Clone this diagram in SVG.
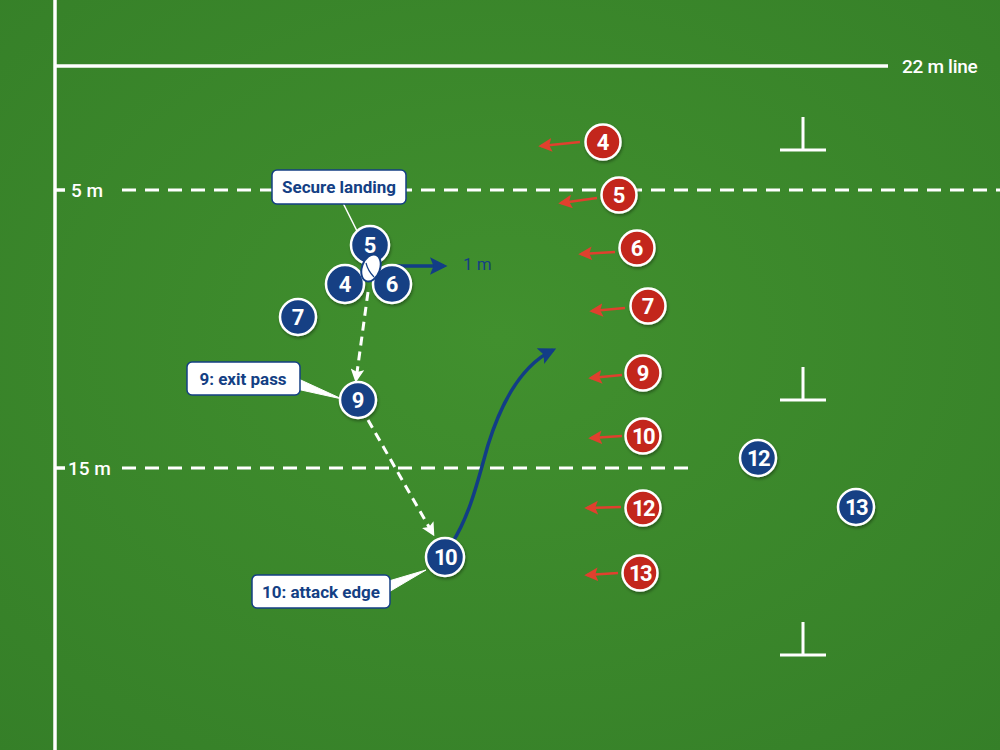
<svg xmlns="http://www.w3.org/2000/svg" width="1000" height="750" viewBox="0 0 1000 750">
<defs>
<radialGradient id="grass" cx="50%" cy="45%" r="75%">
<stop offset="0" stop-color="#41902e"/>
<stop offset="1" stop-color="#357f28"/>
</radialGradient>
<filter id="sh" x="-30%" y="-30%" width="160%" height="160%">
<feDropShadow dx="1" dy="2" stdDeviation="1.5" flood-color="#000" flood-opacity="0.35"/>
</filter>
<marker id="redHead" viewBox="0 0 10 10" refX="8" refY="5" markerWidth="5.5" markerHeight="5.5" orient="auto">
<path d="M0,0 L10,5 L0,10 L2,5 Z" fill="#e0402e"/>
</marker>
<marker id="blueHead" viewBox="0 0 10 10" refX="8" refY="5" markerWidth="5" markerHeight="5" orient="auto">
<path d="M0,0 L10,5 L0,10 L2,5 Z" fill="#123d86"/>
</marker>
<marker id="whiteHead" viewBox="0 0 10 10" refX="8" refY="5" markerWidth="4.5" markerHeight="4.5" orient="auto">
<path d="M0,0 L10,5 L0,10 L2,5 Z" fill="#ffffff"/>
</marker>
</defs>
<style>
.line{stroke:#fff;stroke-width:3.5;fill:none}
.dash{stroke:#fff;stroke-width:3;stroke-dasharray:14 9;fill:none}
.lbl{font-family:Roboto,"Liberation Sans",sans-serif;font-size:19px;fill:#fff;font-weight:500}
.blue circle{fill:#143f84;stroke:#fff;stroke-width:2.5;filter:url(#sh)}
.red circle{fill:#c3271d;stroke:#fff;stroke-width:2.5;filter:url(#sh)}
.num{font-family:Roboto,"Liberation Sans",sans-serif;font-weight:700;font-size:22px;fill:#fff;text-anchor:middle}
.box rect{fill:#fff;stroke:#143f84;stroke-width:1.5}
.boxt{font-family:Roboto,"Liberation Sans",sans-serif;font-weight:700;font-size:17px;fill:#143f84;text-anchor:middle}
.ra{stroke:#e0402e;stroke-width:2.5;fill:none;marker-end:url(#redHead)}
</style>
<rect width="1000" height="750" fill="url(#grass)"/>

<g id="field">
<line class="line" x1="55" y1="0" x2="55" y2="750"/>
<line class="line" x1="55" y1="66" x2="888" y2="66"/>
<text class="lbl" x="902" y="73" letter-spacing="-0.3">22 m line</text>
<line class="line" x1="55" y1="190" x2="65" y2="190" stroke-width="2.5"/>
<text class="lbl" x="71" y="197">5 m</text>
<line class="dash" x1="122" y1="190" x2="1000" y2="190"/>
<line class="line" x1="55" y1="468" x2="65" y2="468" stroke-width="2.5"/>
<text class="lbl" x="68" y="475">15 m</text>
<line class="dash" x1="122" y1="468" x2="690" y2="468"/>
<g id="posts" stroke="#fff" stroke-width="3" fill="none">
<path d="M803,117 V150 M780,150 H826"/>
<path d="M803,367 V400 M780,400 H826"/>
<path d="M803,622 V655 M780,655 H826"/>
</g>
</g>

<g id="connectors">
<line x1="368" y1="292" x2="356" y2="380" stroke="#fff" stroke-width="3" stroke-dasharray="9 6" marker-end="url(#whiteHead)"/>
<line x1="368" y1="420" x2="433" y2="534" stroke="#fff" stroke-width="3" stroke-dasharray="9 6" marker-end="url(#whiteHead)"/>
<line x1="396" y1="266" x2="444" y2="266" stroke="#123d86" stroke-width="3.5" marker-end="url(#blueHead)"/>
<path d="M452,543 C470,515 478,480 488,445 C502,400 522,365 553,350" stroke="#123d86" stroke-width="3.5" fill="none" marker-end="url(#blueHead)"/>
<line class="ra" x1="580" y1="142" x2="541" y2="146"/>
<line class="ra" x1="597" y1="198" x2="561" y2="203"/>
<line class="ra" x1="615" y1="252" x2="581" y2="254"/>
<line class="ra" x1="625" y1="308" x2="592" y2="311"/>
<line class="ra" x1="622" y1="375" x2="591" y2="378"/>
<line class="ra" x1="622" y1="436" x2="591" y2="438"/>
<line class="ra" x1="621" y1="507" x2="587" y2="508"/>
<line class="ra" x1="618" y1="573" x2="587" y2="575"/>
</g>
<text x="463" y="270" font-family="Roboto,'Liberation Sans',sans-serif" font-size="17" fill="#143f84">1 m</text>

<g id="callout-secure" class="box">
<line x1="343" y1="203" x2="358" y2="233" stroke="#fff" stroke-width="1.5"/>
<rect x="272" y="170" width="134" height="34" rx="5"/>
<text class="boxt" x="339" y="193">Secure landing</text>
</g>
<g id="callout-9" class="box">
<polygon points="292,376 342,399 292,388" fill="#fff" stroke="#fff" stroke-width="1"/>
<rect x="187" y="362" width="113" height="33" rx="5"/>
<text class="boxt" x="243" y="385">9: exit pass</text>
</g>
<g id="callout-10" class="box">
<polygon points="382,583 426,570 382,596" fill="#fff" stroke="#fff" stroke-width="1"/>
<rect x="252" y="575" width="138" height="33" rx="5"/>
<text class="boxt" x="321" y="598">10: attack edge</text>
</g>

<g id="blue-5" class="blue"><circle cx="370" cy="245" r="19"/><text class="num" x="370" y="253">5</text></g>
<g id="blue-4" class="blue"><circle cx="345" cy="284" r="19"/><text class="num" x="345" y="292">4</text></g>
<g id="blue-6" class="blue"><circle cx="392" cy="284" r="19"/><text class="num" x="392" y="292">6</text></g>
<g id="ball">
<ellipse cx="371" cy="268" rx="9" ry="14" transform="rotate(20 371 268)" fill="#fff" stroke="#143f84" stroke-width="2"/>
<path d="M366,263 Q368,271 374,277" stroke="#143f84" stroke-width="1.2" fill="none"/>
</g>
<g id="blue-7" class="blue"><circle cx="298" cy="317" r="18"/><text class="num" x="298" y="325">7</text></g>
<g id="blue-9" class="blue"><circle cx="358" cy="400" r="18"/><text class="num" x="358" y="408">9</text></g>
<g id="blue-10" class="blue"><circle cx="445" cy="557" r="19"/><text class="num" x="445" y="565" letter-spacing="-1.5">10</text></g>
<g id="blue-12" class="blue"><circle cx="758" cy="458" r="18"/><text class="num" x="758" y="466" letter-spacing="-1.5">12</text></g>
<g id="blue-13" class="blue"><circle cx="856" cy="507" r="18"/><text class="num" x="856" y="515" letter-spacing="-1.5">13</text></g>

<g id="red-4" class="red"><circle cx="603" cy="142" r="17.5"/><text class="num" x="603" y="150">4</text></g>
<g id="red-5" class="red"><circle cx="619" cy="195" r="17.5"/><text class="num" x="619" y="203">5</text></g>
<g id="red-6" class="red"><circle cx="637" cy="248" r="17.5"/><text class="num" x="637" y="256">6</text></g>
<g id="red-7" class="red"><circle cx="648" cy="306" r="17.5"/><text class="num" x="648" y="314">7</text></g>
<g id="red-9" class="red"><circle cx="643" cy="373" r="17.5"/><text class="num" x="643" y="381">9</text></g>
<g id="red-10" class="red"><circle cx="643" cy="436" r="17.5"/><text class="num" x="643" y="444" letter-spacing="-1.5">10</text></g>
<g id="red-12" class="red"><circle cx="643" cy="508" r="17.5"/><text class="num" x="643" y="516" letter-spacing="-1.5">12</text></g>
<g id="red-13" class="red"><circle cx="640" cy="573" r="17.5"/><text class="num" x="640" y="581" letter-spacing="-1.5">13</text></g>
</svg>
